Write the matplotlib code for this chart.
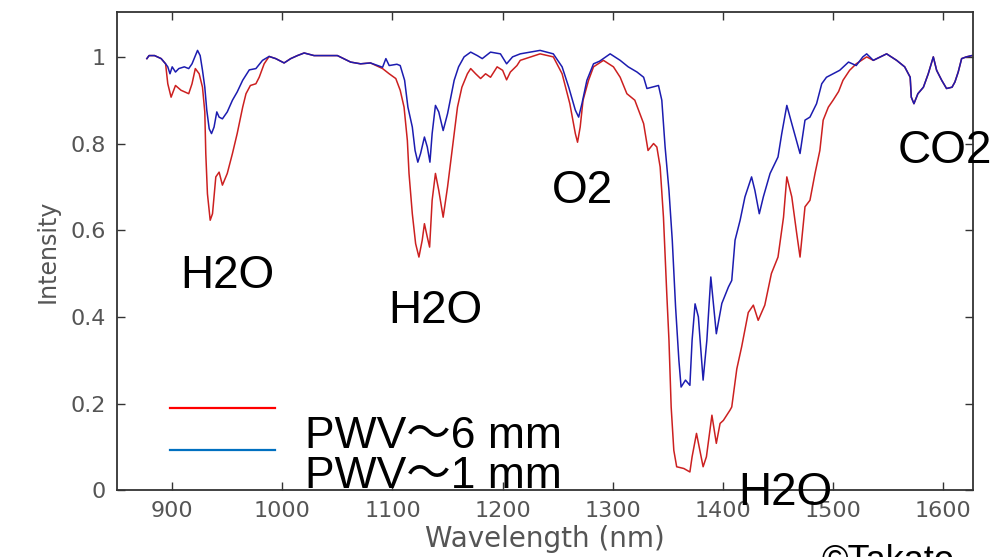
#!/usr/bin/env python3

import matplotlib
matplotlib.use('Agg')
from matplotlib import pyplot as plt

# PWV ~ 6 mm (red)
wl_6mm = [877, 879, 884, 890, 894, 896, 899, 903, 908, 915, 918, 921, 924.5, 927.5, 929.6,
          930.5, 932, 934.5, 936.6, 938, 939.6, 942.6, 945.6, 950, 954.7, 959, 964, 967,
          971, 976, 979, 983.5, 988, 994, 1001.6, 1007.6, 1013.7, 1019.8, 1028.8, 1050,
          1062, 1071, 1080, 1091, 1097, 1103, 1107, 1110.5, 1113.5, 1115, 1118, 1121, 1124,
          1127, 1129, 1131.6, 1133.7, 1136, 1139, 1142, 1146, 1150, 1153, 1156, 1159, 1163,
          1168, 1171, 1175.5, 1180, 1184.5, 1189, 1195, 1200, 1203.6, 1207, 1213, 1216,
          1234, 1246, 1254, 1261, 1266, 1268, 1270.4, 1273, 1278, 1282.5, 1291.5, 1300.6,
          1306.7, 1312.8, 1320, 1328, 1332, 1337, 1340, 1343, 1346, 1349, 1351, 1353,
          1355.4, 1358, 1364.5, 1370, 1372, 1376, 1382, 1385, 1390, 1394, 1397.4, 1400.4,
          1406.5, 1408, 1412.6, 1417, 1423, 1427.6, 1432, 1438, 1444, 1450, 1455, 1458,
          1462.5, 1467, 1470, 1474.5, 1479, 1483.6, 1488, 1491, 1495.7, 1500, 1505, 1509,
          1515, 1521, 1530.5, 1536.5, 1548.6, 1557.7, 1565, 1570, 1571, 1573.4, 1577, 1582,
          1586.4, 1591, 1594, 1598.6, 1603, 1608, 1610.6, 1613.6, 1616.7, 1621, 1626]
int_6mm = [0.996, 1.003, 1.003, 0.996, 0.984, 0.938, 0.907, 0.934, 0.923, 0.915, 0.938,
           0.973, 0.961, 0.930, 0.873, 0.777, 0.684, 0.623, 0.638, 0.677, 0.723, 0.734,
           0.704, 0.731, 0.777, 0.823, 0.884, 0.915, 0.934, 0.938, 0.953, 0.984, 1.001,
           0.996, 0.986, 0.996, 1.003, 1.009, 1.003, 1.003, 0.988, 0.984, 0.986, 0.973,
           0.961, 0.950, 0.923, 0.884, 0.807, 0.731, 0.638, 0.569, 0.538, 0.577, 0.615,
           0.584, 0.561, 0.669, 0.731, 0.692, 0.630, 0.700, 0.761, 0.823, 0.884, 0.930,
           0.961, 0.973, 0.961, 0.950, 0.961, 0.953, 0.977, 0.969, 0.947, 0.965, 0.980,
           0.992, 1.007, 1.000, 0.961, 0.892, 0.823, 0.803, 0.838, 0.900, 0.946, 0.977,
           0.992, 0.977, 0.953, 0.915, 0.900, 0.846, 0.784, 0.800, 0.792, 0.746, 0.630,
           0.454, 0.346, 0.192, 0.092, 0.054, 0.050, 0.042, 0.077, 0.131, 0.054, 0.077,
           0.173, 0.108, 0.154, 0.161, 0.185, 0.192, 0.280, 0.331, 0.410, 0.427, 0.392,
           0.427, 0.500, 0.538, 0.630, 0.723, 0.677, 0.592, 0.538, 0.654, 0.669, 0.731,
           0.784, 0.854, 0.884, 0.900, 0.920, 0.946, 0.969, 0.984, 1.000, 0.992, 1.007,
           0.992, 0.977, 0.953, 0.907, 0.892, 0.915, 0.930, 0.961, 1.000, 0.969, 0.946,
           0.927, 0.930, 0.942, 0.965, 0.996, 1.000, 1.003]

# PWV ~ 1 mm (blue)
wl_1mm = [877, 879, 884, 890, 894, 896, 898, 900, 903, 906, 911, 915, 918, 923, 925.4,
          927.5, 929.6, 931.4, 933.6, 935.7, 938, 940.5, 942.6, 945.6, 950, 954.7, 959,
          964, 970, 976, 982, 988, 994, 1001.6, 1007.6, 1013.7, 1019.8, 1028.8, 1050, 1062,
          1071, 1080, 1091, 1094, 1097, 1104, 1107, 1111, 1114, 1118, 1120.5, 1123, 1125.5,
          1129, 1131.6, 1134, 1136, 1139, 1142, 1146, 1150, 1153, 1156, 1160, 1165, 1171,
          1177, 1181.5, 1189, 1198, 1203.6, 1209, 1216, 1234, 1246, 1254, 1260, 1266, 1269,
          1272, 1276.5, 1282.5, 1288, 1297.6, 1306.7, 1314, 1322, 1328, 1331, 1335.5,
          1341.5, 1344.5, 1347.5, 1351, 1354, 1357, 1360, 1362, 1366, 1370, 1372, 1374.7,
          1377.7, 1382, 1385.4, 1389, 1394, 1399, 1405, 1408, 1411, 1415.6, 1420, 1426,
          1429, 1433, 1436.7, 1442.8, 1450, 1453.4, 1458, 1462.5, 1470, 1474.5, 1479, 1485,
          1489.7, 1494, 1500, 1506, 1514, 1521, 1527, 1530.5, 1536.5, 1548.6, 1557.7, 1565,
          1570, 1571, 1573.4, 1577, 1582, 1586.4, 1591, 1594, 1598.6, 1603, 1608, 1610.6,
          1613.6, 1616.7, 1621, 1626]
int_1mm = [0.996, 1.003, 1.003, 0.996, 0.984, 0.977, 0.961, 0.977, 0.965, 0.973, 0.977,
           0.973, 0.984, 1.015, 1.003, 0.969, 0.930, 0.877, 0.834, 0.823, 0.838, 0.873,
           0.861, 0.857, 0.873, 0.900, 0.919, 0.946, 0.970, 0.973, 0.992, 1.001, 0.996,
           0.986, 0.996, 1.003, 1.009, 1.003, 1.003, 0.988, 0.984, 0.986, 0.976, 0.996,
           0.980, 0.983, 0.980, 0.946, 0.884, 0.838, 0.784, 0.757, 0.777, 0.815, 0.792,
           0.757, 0.823, 0.888, 0.873, 0.830, 0.869, 0.907, 0.946, 0.977, 1.000, 1.011,
           1.003, 0.996, 1.011, 1.007, 0.984, 1.000, 1.007, 1.015, 1.007, 0.977, 0.930,
           0.877, 0.861, 0.892, 0.946, 0.984, 0.990, 1.007, 0.992, 0.977, 0.965, 0.953,
           0.927, 0.930, 0.934, 0.900, 0.792, 0.692, 0.577, 0.423, 0.300, 0.238, 0.254,
           0.242, 0.346, 0.430, 0.400, 0.254, 0.346, 0.492, 0.361, 0.431, 0.469, 0.484,
           0.577, 0.623, 0.677, 0.723, 0.692, 0.638, 0.677, 0.731, 0.769, 0.823, 0.888,
           0.846, 0.777, 0.854, 0.861, 0.892, 0.938, 0.953, 0.961, 0.969, 0.988, 0.980,
           1.000, 1.007, 0.992, 1.007, 0.992, 0.977, 0.953, 0.907, 0.892, 0.915, 0.930,
           0.961, 1.000, 0.969, 0.946, 0.927, 0.930, 0.942, 0.965, 0.996, 1.000, 1.003]

x_ticks = [900, 1000, 1100, 1200, 1300, 1400, 1500, 1600]
y_ticks = [0, 0.2, 0.4, 0.6, 0.8, 1.0]
y_ticklabels = ['0', '0.2', '0.4', '0.6', '0.8', '1']

# band labels: (text, wavelength, intensity)
bands = [('H2O', 907.5, 0.466), ('H2O', 1096, 0.385), ('O2', 1245, 0.662),
         ('CO2', 1559, 0.754), ('H2O', 1414, -0.035)]
series_labels = ['PWV～6 mm', 'PWV～1 mm']

grey = '#555555'
big = ['Liberation Sans', 'Noto Sans CJK JP']

fig = plt.figure(figsize=(10.01, 5.57), dpi=100)
ax = fig.add_axes([0.117, 0.120, 0.855, 0.858])

ax.plot(wl_6mm, int_6mm, color='#cc2020', linewidth=1.1)
ax.plot(wl_1mm, int_1mm, color='#1c1cb0', linewidth=1.1)

ax.set_xlim(850, 1627)
ax.set_ylim(0, 1.103)
ax.set_xticks(x_ticks)
ax.set_yticks(y_ticks)
ax.set_yticklabels(y_ticklabels)
ax.tick_params(direction='in', length=6, width=1.0, top=True, right=True,
               labelsize=16, labelcolor=grey, color='#333333', pad=8)
for s in ax.spines.values():
    s.set_color('#333333')
    s.set_linewidth(1.3)

ax.set_xlabel('Wavelength (nm)', fontsize=20, color=grey, labelpad=3)
ax.set_ylabel('Intensity', fontsize=17, color=grey, labelpad=8)

for txt, x, y in bands:
    ax.text(x, y, txt, fontsize=33, family=big, ha='left', va='baseline')

# hand-made legend
for yl, c in [(0.172, '#ff0000'), (0.084, '#0070c0')]:
    ax.plot([0.062, 0.185], [yl, yl], color=c, linewidth=1.6, transform=ax.transAxes)
for lab, yb in zip(series_labels, [0.088, 0.004]):
    ax.text(0.220, yb, lab, fontsize=32, family=big, ha='left', va='baseline',
            transform=ax.transAxes)

fig.text(0.821, -0.026, '©Takato', fontsize=26, family=big, ha='left', va='baseline')

plt.savefig('out.png', dpi=100)
